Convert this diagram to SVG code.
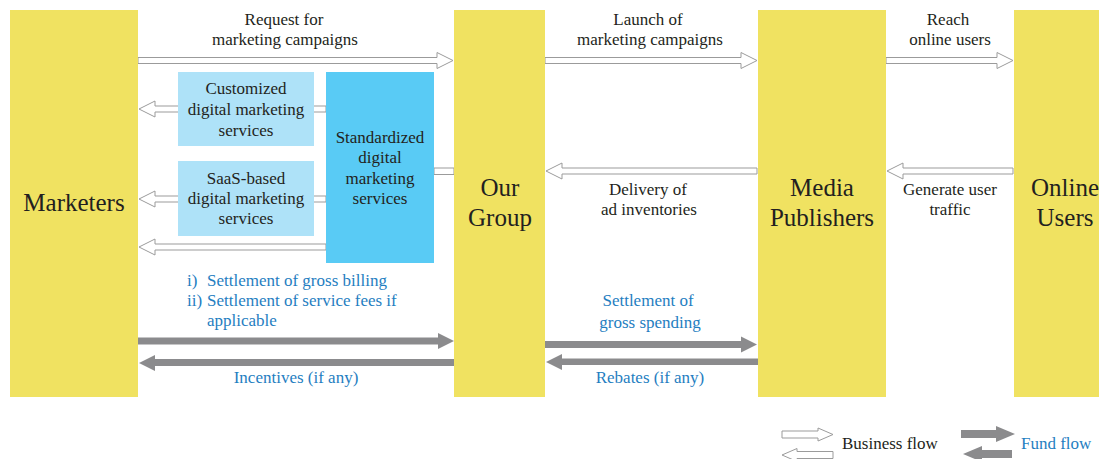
<svg xmlns="http://www.w3.org/2000/svg" width="1109" height="459" viewBox="0 0 1109 459">
<style>
.col{fill:#F0E261}
text{font-family:'Liberation Serif','Times New Roman',Times,serif}
.t{font-size:17px;fill:#231F20;text-anchor:middle}
.b{font-size:17px;fill:#1F7EC1;text-anchor:middle}
.s{text-anchor:start}
.big{font-size:25px;fill:#231F20;text-anchor:middle}
.h{fill:#fff;stroke:#9B9B9B;stroke-width:1}
.f{fill:#8B8B8D}
</style>
<rect width="1109" height="459" fill="#fff"/>
<g id="connectors">
<path class="h" d="M138,57.5H437V52.5L453,60.5L437,68.5V63.5H138Z"/>
<path class="h" d="M545,57.5H741V52.5L757,60.5L741,68.5V63.5H545Z"/>
<path class="h" d="M886,57.5H997V52.5L1013,60.5L997,68.5V63.5H886Z"/>
<path class="h" d="M326,106H155V101L139,109L155,117V112H326Z"/>
<path class="h" d="M326,196H155V191L139,199L155,207V202H326Z"/>
<path class="h" d="M326,244H155V239L139,247L155,255V250H326Z"/>
<path class="h" d="M454,168H434V174.5H454Z"/>
<path class="h" d="M757,168H562V163L546,171L562,179V174H757Z"/>
<path class="h" d="M1013,168H903V163L887,171L903,179V174H1013Z"/>
<path class="f" d="M138,337.5H438V333L454,341L438,349V344.5H138Z"/>
<path class="f" d="M454,359H155V355L139,363L155,371V366H454Z"/>
<path class="f" d="M545,341H741V336.5L757,344.5L741,352.5V348H545Z"/>
<path class="f" d="M758,358.5H562V354L546,362L562,370V365H758Z"/>
</g>
<g id="marketers"><rect class="col" x="10" y="10" width="128" height="387"/><text class="big" x="74" y="211">Marketers</text></g>
<g id="our-group"><rect class="col" x="454" y="10" width="91" height="387"/><text class="big" x="500" y="196">Our</text><text class="big" x="500" y="226">Group</text></g>
<g id="media-publishers"><rect class="col" x="758" y="10" width="128" height="387"/><text class="big" x="822" y="196">Media</text><text class="big" x="822" y="226">Publishers</text></g>
<g id="online-users"><rect class="col" x="1014" y="10" width="85" height="387"/><text class="big" x="1065" y="196">Online</text><text class="big" x="1065" y="226">Users</text></g>
<g id="customized"><rect x="178" y="72" width="136" height="74" fill="#AEE2F8"/><text class="t" x="246" y="94">Customized</text><text class="t" x="246" y="115">digital marketing</text><text class="t" x="246" y="136">services</text></g>
<g id="saas"><rect x="178" y="161" width="136" height="75" fill="#AEE2F8"/><text class="t" x="246" y="184">SaaS-based</text><text class="t" x="246" y="204">digital marketing</text><text class="t" x="246" y="224">services</text></g>
<g id="standardized"><rect x="326" y="72" width="108" height="191" fill="#59CBF5"/><text class="t" x="380" y="143">Standardized</text><text class="t" x="380" y="163">digital</text><text class="t" x="380" y="184">marketing</text><text class="t" x="380" y="204">services</text></g>
<g id="labels">
<text class="t" x="284" y="25">Request for</text><text class="t" x="285" y="45">marketing campaigns</text>
<text class="t" x="648" y="25">Launch of</text><text class="t" x="650" y="45">marketing campaigns</text>
<text class="t" x="948" y="25">Reach</text><text class="t" x="950" y="45">online users</text>
<text class="t" x="648" y="195">Delivery of</text><text class="t" x="649" y="215">ad inventories</text>
<text class="t" x="950" y="195">Generate user</text><text class="t" x="950" y="215">traffic</text>
<text class="b s" x="187" y="286">i)</text><text class="b s" x="207" y="286">Settlement of gross billing</text>
<text class="b s" x="187" y="306">ii)</text><text class="b s" x="207" y="306">Settlement of service fees if</text>
<text class="b s" x="207" y="326">applicable</text>
<text class="b" x="648" y="306">Settlement of</text><text class="b" x="650" y="328">gross spending</text>
<text class="b" x="296" y="383">Incentives (if any)</text>
<text class="b" x="650" y="383">Rebates (if any)</text>
</g>
<g id="legend">
<path class="h" d="M782,431H818V428L833,434.5L818,441V438H782Z"/>
<path class="h" d="M833,451.5H797V448.5L782,455L797,461.5V458.5H833Z"/>
<text class="t s" x="842" y="449">Business flow</text>
<path class="f" d="M961,430H996V426L1015,434L996,442V438H961Z"/>
<path class="f" d="M1012,450H982V446L963,454L982,462V458H1012Z"/>
<text class="b s" x="1021" y="449">Fund flow</text>
</g>
</svg>
